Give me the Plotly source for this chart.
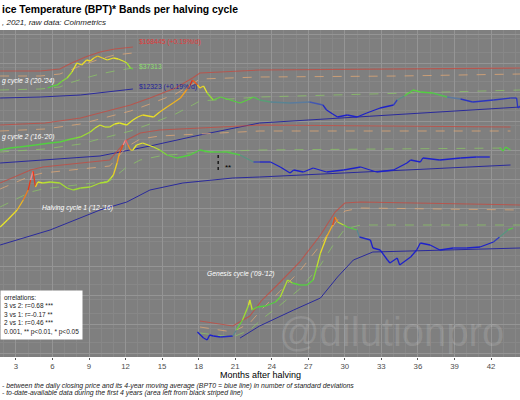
import plotly.graph_objects as go
from plotly.colors import sample_colorscale

# x = months after halving, y = stacked log-price level (chart units), temp = BPT colour 0..1

# Halving cycle 3 ('20-'24)
c3_month = [5.6, 6.0, 6.4, 6.8, 7.2, 7.6, 8.0, 8.4, 8.8, 9.1, 9.4, 9.7, 10.1, 10.5, 11.0, 11.4, 11.8, 12.1, 12.4, 12.6]
c3_price = [269, 271, 272, 276, 279, 285, 294, 292, 297, 296, 299, 301, 299, 297, 299, 298, 296, 294, 289, 288]
c3_temp = [0.3, 0.3, 0.32, 0.35, 0.38, 0.45, 0.55, 0.5, 0.55, 0.5, 0.55, 0.6, 0.52, 0.5, 0.52, 0.5, 0.48, 0.45, 0.35, 0.3]
c3_band_month = [1.7, 5.0, 6.6, 7.4, 8.7, 9.9, 11.1, 12.6]
c3_red = [286, 286, 288, 293, 300, 305, 308, 310]
c3_orange = [281, 281, 283, 287, 293, 298, 302, 304]
c3_green = [267, 268, 270, 274, 279, 283, 286, 289]
c3_ma_month = [1.7, 5.0, 8.3, 10.7, 12.6]
c3_ma = [259, 260, 262, 265, 268]

# Halving cycle 2 ('16-'20)
c2_month = [1.7, 2.5, 3.3, 4.6, 5.8, 6.6, 7.2, 7.9, 8.3, 9.1, 9.5, 9.9, 10.3, 10.7, 11.1, 11.5, 12.1, 12.6,
            13.0, 13.4, 14.3, 14.8, 15.4, 15.9, 16.5, 17.0, 17.3, 17.5, 17.9, 18.1, 18.4, 18.7, 19.2, 19.8,
            20.6, 21.4, 22.0, 22.5, 23.0, 23.9, 25.5, 27.1, 28.2, 28.5, 29.0, 29.4, 30.2, 31.0, 31.8, 32.9,
            34.0, 34.3, 34.9, 35.6, 36.2, 37.2, 38.4, 39.5, 40.5, 42.2, 43.6, 44.1, 44.2, 44.4]
c2_price = [207, 209, 210, 212, 214, 215, 217, 219, 220, 225, 229, 232, 230, 230, 233, 234, 232, 237,
            240, 242, 240, 245, 250, 254, 259, 267, 272, 277, 272, 269, 271, 264, 257, 260,
            257, 254, 257, 260, 257, 255, 254, 255, 252, 247, 243, 240, 242, 240, 244, 249,
            252, 257, 261, 267, 265, 264, 260, 258, 255, 257, 259, 259, 249, 251]
c2_temp = [0.3, 0.3, 0.3, 0.3, 0.3, 0.3, 0.32, 0.35, 0.38, 0.42, 0.45, 0.5, 0.45, 0.45, 0.5, 0.5, 0.48, 0.5,
           0.52, 0.55, 0.5, 0.55, 0.6, 0.6, 0.62, 0.68, 0.75, 0.9, 0.6, 0.55, 0.55, 0.45, 0.32, 0.32,
           0.3, 0.3, 0.32, 0.3, 0.25, 0.18, 0.16, 0.15, 0.05, 0.02, 0.02, 0.02, 0.02, 0.02, 0.02, 0.02,
           0.02, 0.1, 0.28, 0.32, 0.3, 0.3, 0.25, 0.05, 0.05, 0.05, 0.05, 0.05, 0.05, 0.05]
c2_band_month = [1.7, 5.4, 8.3, 9.9, 12.4, 14.0, 16.1, 17.5, 18.1, 23.0, 34.5, 44.4]
c2_red = [232, 234, 239, 244, 252, 259, 269, 279, 284, 287, 288, 289]
c2_orange = [226, 228, 233, 238, 246, 253, 263, 273, 278, 280, 281, 283]
c2_green = [205, 208, 213, 218, 226, 233, 243, 252, 256, 260, 264, 267]
c2_ma_month = [1.7, 9.9, 14.0, 18.1, 23.0, 33.7, 44.4]
c2_ma = [194, 201, 211, 222, 234, 242, 250]

# Halving cycle 1 ('12-'16)
c1_month = [1.7, 2.3, 3.1, 3.6, 4.0, 4.2, 4.4, 4.6, 4.8, 5.2, 5.8, 6.6, 7.2, 7.7, 8.3, 9.1, 9.9, 10.5,
            10.8, 11.0, 11.3, 11.5, 11.8, 12.0, 12.2, 12.4, 12.6, 12.9, 13.4, 14.3, 14.8, 15.4, 16.2, 17.3,
            18.1, 18.9, 20.3, 21.4, 22.5, 23.0, 23.9, 24.7, 25.5, 25.8, 26.6, 27.4, 28.5, 29.9, 31.3, 32.6,
            34.0, 35.1, 35.4, 36.2, 36.4, 37.8, 39.5, 40.8, 41.9]
c1_price = [130, 137, 147, 157, 167, 177, 186, 170, 175, 174, 175, 174, 169, 167, 169, 170, 174, 175,
            179, 182, 194, 204, 212, 217, 212, 207, 207, 212, 214, 210, 207, 202, 199, 202,
            207, 205, 205, 202, 195, 195, 195, 190, 184, 187, 185, 189, 185, 187, 190, 185,
            187, 194, 197, 195, 199, 197, 199, 200, 200]
c1_temp = [0.5, 0.5, 0.55, 0.65, 0.75, 0.85, 1.0, 0.6, 0.5, 0.45, 0.42, 0.42, 0.4, 0.4, 0.4, 0.42, 0.42, 0.42,
           0.45, 0.5, 0.6, 0.7, 0.85, 1.0, 0.8, 0.55, 0.5, 0.5, 0.5, 0.48, 0.4, 0.32, 0.3, 0.3,
           0.3, 0.3, 0.3, 0.28, 0.12, 0.02, 0.02, 0.02, 0.02, 0.02, 0.02, 0.02, 0.02, 0.02, 0.02, 0.02,
           0.02, 0.02, 0.02, 0.02, 0.02, 0.02, 0.02, 0.02, 0.02]
c1_tail_month = [42.7, 43.0, 43.2, 43.6]
c1_tail_price = [209, 206, 210, 207]
c1_band_month = [1.7, 4.2, 5.2, 10.7, 12.1, 13.2, 14.8, 18.1, 23.0, 43.6]
c1_red = [174, 187, 190, 197, 217, 224, 227, 229, 232, 230]
c1_orange = [168, 181, 184, 191, 210, 218, 221, 223, 226, 226]
c1_green = [150, 165, 168, 176, 190, 197, 201, 205, 207, 209]
c1_ma_month = [1.7, 5.8, 9.9, 12.1, 14.0, 16.7, 20.8, 23.0, 43.6]
c1_ma = [112, 127, 147, 155, 167, 174, 179, 180, 192]
cutoff_month = [19.6, 19.6]
cutoff_level = [187, 204]

# Genesis cycle ('09-'12)
c0_month = [17.9, 18.4, 18.7, 18.9, 19.2, 19.8, 20.8, 21.1, 21.6, 22.1, 22.2, 22.4, 22.8, 23.5, 24.3, 24.7,
            25.3, 25.7, 26.3, 26.9, 27.4, 27.7, 28.0, 28.5, 29.0, 29.2, 29.4, 29.9, 30.2, 31.0, 31.2, 32.1,
            32.3, 32.9, 33.5, 33.7, 34.3, 34.5, 35.4, 35.9, 36.2, 37.0, 37.8, 38.9, 40.0, 41.1, 42.2, 42.7,
            43.4, 43.8]
c0_price = [25, 19, 17, 22, 21, 20, 21, 27, 37, 52, 57, 47, 50, 51, 55, 60,
            77, 74, 72, 72, 77, 90, 104, 120, 132, 140, 135, 132, 130, 127, 120, 117,
            109, 107, 97, 94, 99, 92, 100, 107, 114, 112, 107, 109, 109, 110, 115, 120,
            127, 129]
c0_temp = [0.02, 0.02, 0.02, 0.02, 0.02, 0.02, 0.05, 0.3, 0.35, 0.45, 0.55, 0.35, 0.3, 0.3, 0.3, 0.35,
           0.5, 0.32, 0.3, 0.3, 0.32, 0.4, 0.5, 0.55, 0.7, 0.85, 0.5, 0.4, 0.3, 0.3, 0.05, 0.02,
           0.02, 0.02, 0.02, 0.02, 0.02, 0.02, 0.02, 0.02, 0.02, 0.02, 0.02, 0.02, 0.02, 0.02, 0.02, 0.1,
           0.3, 0.3]
c0_band_month = [18.1, 20.8, 22.2, 23.2, 24.7, 26.3, 28.0, 29.2, 30.0, 31.3, 44.4]
c0_red = [36, 31, 41, 57, 75, 95, 122, 145, 154, 155, 152]
c0_orange = [30, 25, 34, 48, 66, 86, 112, 134, 146, 149, 147]
c0_green = [24, 20, 27, 38, 52, 68, 92, 115, 128, 132, 132]
c0_ma_month = [21.4, 23.0, 25.8, 28.0, 29.4, 30.7, 32.3, 38.6, 44.4]
c0_ma = [19, 31, 47, 59, 80, 97, 105, 107, 109]

temp_scale = [[0.0, '#1414d2'], [0.15, '#5a78a0'], [0.3, '#52d040'], [0.5, '#e8e828'],
              [0.65, '#f2a020'], [0.85, '#e41818'], [1.0, '#ffffff']]

FONT = 'Liberation Sans, Arial'
fig = go.Figure()


def add_band(months, values, color, dash, width=1.0):
    fig.add_trace(go.Scatter(x=months, y=values, mode='lines', hoverinfo='skip',
                             line=dict(color=color, width=width, dash=dash)))


def add_price(months, prices, temps):
    for i in range(len(months) - 1):
        t = (temps[i] + temps[i + 1]) / 2
        col = sample_colorscale(temp_scale, [t])[0]
        fig.add_trace(go.Scatter(x=months[i:i + 2], y=prices[i:i + 2], mode='lines',
                                 hoverinfo='skip', line=dict(color=col, width=1.3)))


cycles = [
    (c3_band_month, c3_red, c3_orange, c3_green, c3_ma_month, c3_ma, c3_month, c3_price, c3_temp),
    (c2_band_month, c2_red, c2_orange, c2_green, c2_ma_month, c2_ma, c2_month, c2_price, c2_temp),
    (c1_band_month, c1_red, c1_orange, c1_green, c1_ma_month, c1_ma, c1_month, c1_price, c1_temp),
    (c0_band_month, c0_red, c0_orange, c0_green, c0_ma_month, c0_ma, c0_month, c0_price, c0_temp),
]
for bm, red, orange, green, mm, ma, pm, pp, pt in cycles:
    add_band(bm, red, 'rgba(200,72,62,0.75)', 'solid', 1.1)
    add_band(bm, orange, 'rgba(232,170,115,0.8)', 'dash', 0.9)
    add_band(bm, green, 'rgba(140,200,100,0.8)', 'dash', 0.9)
    add_band(mm, ma, '#2a2a9c', 'solid', 1.0)
    add_price(pm, pp, pt)

add_price(c1_tail_month, c1_tail_price, [0.3] * len(c1_tail_month))
add_band(cutoff_month, cutoff_level, 'black', 'dot', 1.2)

label_font = dict(family=FONT, size=6.7, color='white')
labels = [
    (1.69, 276, "g cycle 3 ('20-'24)"),
    (1.69, 220, "g cycle 2 ('16-'20)"),
    (5.0, 149, "Halving cycle 1 ('12-'16)"),
    (18.5, 83, "Genesis cycle ('09-'12)"),
]
for x, y, txt in labels:
    fig.add_annotation(x=x, y=y, text='<i>' + txt + '</i>', showarrow=False, xanchor='left',
                       font=label_font)

fig.add_annotation(x=12.9, y=315, text='$168445 (+0.19%/d)', showarrow=False, xanchor='left',
                   font=dict(family=FONT, size=6.8, color='#e03a3a'))
fig.add_annotation(x=12.9, y=291, text='$37313', showarrow=False, xanchor='left',
                   font=dict(family=FONT, size=6.8, color='#8ee070'))
fig.add_annotation(x=12.9, y=270, text='$12323 (+0.19%/d)', showarrow=False, xanchor='left',
                   font=dict(family=FONT, size=6.8, color='#22229a'))
fig.add_annotation(x=20.0, y=190, text='**', showarrow=False, xanchor='left',
                   font=dict(family=FONT, size=8, color='black'))

# watermark
fig.add_annotation(xref='paper', yref='paper', x=0.533, y=0.076, text='@dilutionpro',
                   showarrow=False, xanchor='left', yanchor='middle',
                   font=dict(family=FONT, size=40, color='rgba(255,255,255,0.13)'))

# correlation box
fig.add_annotation(xref='paper', yref='paper', x=0, y=0.205, xanchor='left', yanchor='top',
                   align='left', showarrow=False, bgcolor='white', borderpad=3,
                   text='orrelations:<br>3 vs 2: r=0.68 ***<br>3 vs 1: r=-0.17 **<br>'
                        '2 vs 1: r=0.46 ***<br>0.001, ** p&lt;0.01, * p&lt;0.05',
                   font=dict(family=FONT, size=6.5, color='#222'))

# titles and notes
fig.add_annotation(xref='paper', yref='paper', x=0, y=1.064, xanchor='left', yanchor='middle',
                   showarrow=False, text='<b>ice Temperature (BPT)* Bands per halving cycle</b>',
                   font=dict(family=FONT, size=10.4, color='black'))
fig.add_annotation(xref='paper', yref='paper', x=0, y=1.024, xanchor='left', yanchor='middle',
                   showarrow=False, text='<i>, 2021, raw data: Coinmetrics</i>',
                   font=dict(family=FONT, size=8, color='#222'))
fig.add_annotation(xref='paper', yref='paper', x=0.5, y=-0.056, xanchor='center', yanchor='middle',
                   showarrow=False, text='Months after halving',
                   font=dict(family=FONT, size=9, color='black'))
fig.add_annotation(xref='paper', yref='paper', x=0, y=-0.088, xanchor='left', yanchor='middle',
                   showarrow=False,
                   text='<i>- between the daily closing price and its 4-year moving average '
                        '(BPT0 = blue line) in number of standard deviations</i>',
                   font=dict(family=FONT, size=6.9, color='#222'))
fig.add_annotation(xref='paper', yref='paper', x=0, y=-0.111, xanchor='left', yanchor='middle',
                   showarrow=False,
                   text='<i>- to-date-available data during the first 4 years '
                        '(area left from black striped line)</i>',
                   font=dict(family=FONT, size=6.9, color='#222'))

fig.update_layout(
    width=520, height=400,
    margin=dict(l=0, r=0, t=30, b=43),
    plot_bgcolor='#7f7f7f', paper_bgcolor='white',
    showlegend=False,
    font=dict(family=FONT),
)
fig.update_xaxes(range=[1.69, 44.38], tick0=0, dtick=3, showgrid=True, gridcolor='#959595',
                 gridwidth=0.8, zeroline=False, ticks='outside', ticklen=2, tickcolor='#555',
                 tickfont=dict(size=7.8, color='#4d4d4d'),
                 minor=dict(dtick=1, showgrid=True, gridcolor='#878787', gridwidth=0.5))
fig.update_yaxes(range=[0, 327], tick0=4, dtick=29, showgrid=True, gridcolor='#959595',
                 gridwidth=0.8, zeroline=False, showticklabels=False,
                 minor=dict(dtick=14.5, showgrid=True, gridcolor='#878787', gridwidth=0.5))

fig.write_html("out.html", config={'displayModeBar': False},
               post_script="document.body.style.margin='0';")
